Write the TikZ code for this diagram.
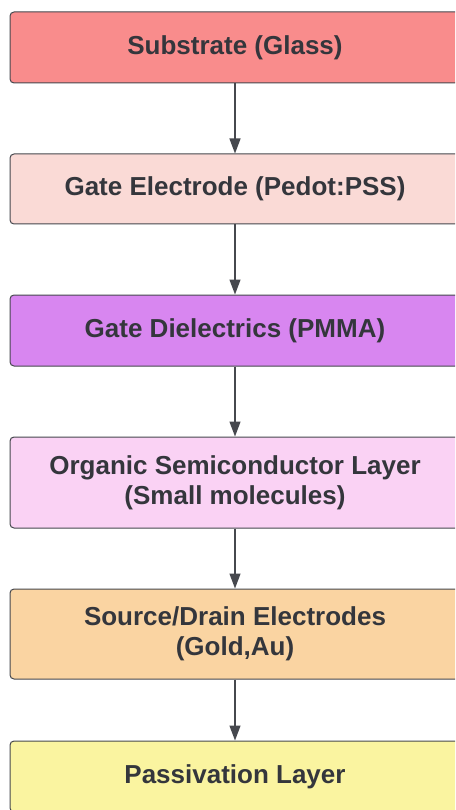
\documentclass[tikz,border=0pt]{standalone}
\usepackage{fontspec}
\setmainfont{Liberation Sans}
\usetikzlibrary{arrows.meta}
\definecolor{cSub}{RGB}{249,140,140}
\definecolor{cGate}{RGB}{250,218,214}
\definecolor{cDiel}{RGB}{216,134,240}
\definecolor{cOrg}{RGB}{250,210,244}
\definecolor{cSD}{RGB}{250,212,162}
\definecolor{cPass}{RGB}{250,244,160}
\definecolor{cText}{RGB}{52,54,60}
\definecolor{cLine}{RGB}{70,72,78}
\tikzset{
  layerbox/.style={draw=cLine, line width=1pt, rounded corners=4pt,
    minimum width=450pt, inner sep=0pt, align=center,
    text=cText, font=\fontsize{26}{30}\selectfont\bfseries},
  flowarrow/.style={draw=cLine, line width=1.3pt,
    -{Triangle[length=15pt,width=11pt]}}
}
\begin{document}
\begin{tikzpicture}[x=1pt,y=1pt]
\clip (0,0) rectangle (455,-810);
\fill[white] (0,0) rectangle (455,-810);
\node[layerbox, fill=cSub, minimum height=71pt] (sub) at (235,-47.5) {Substrate (Glass)};
\node[layerbox, fill=cGate, minimum height=70pt] (gate) at (235,-189) {Gate Electrode (Pedot:PSS)};
\node[layerbox, fill=cDiel, minimum height=71pt] (diel) at (235,-330.5) {Gate Dielectrics (PMMA)};
\node[layerbox, fill=cOrg, minimum height=91pt] (org) at (235,-482.5) {Organic Semiconductor Layer\\(Small molecules)};
\node[layerbox, fill=cSD, minimum height=90pt] (sd) at (235,-634) {Source/Drain Electrodes\\(Gold,Au)};
\node[layerbox, fill=cPass, minimum height=71pt] (pass) at (235,-776.5) {Passivation Layer};
\draw[flowarrow] (sub) -- (gate);
\draw[flowarrow] (gate) -- (diel);
\draw[flowarrow] (diel) -- (org);
\draw[flowarrow] (org) -- (sd);
\draw[flowarrow] (sd) -- (pass);
\end{tikzpicture}
\end{document}
